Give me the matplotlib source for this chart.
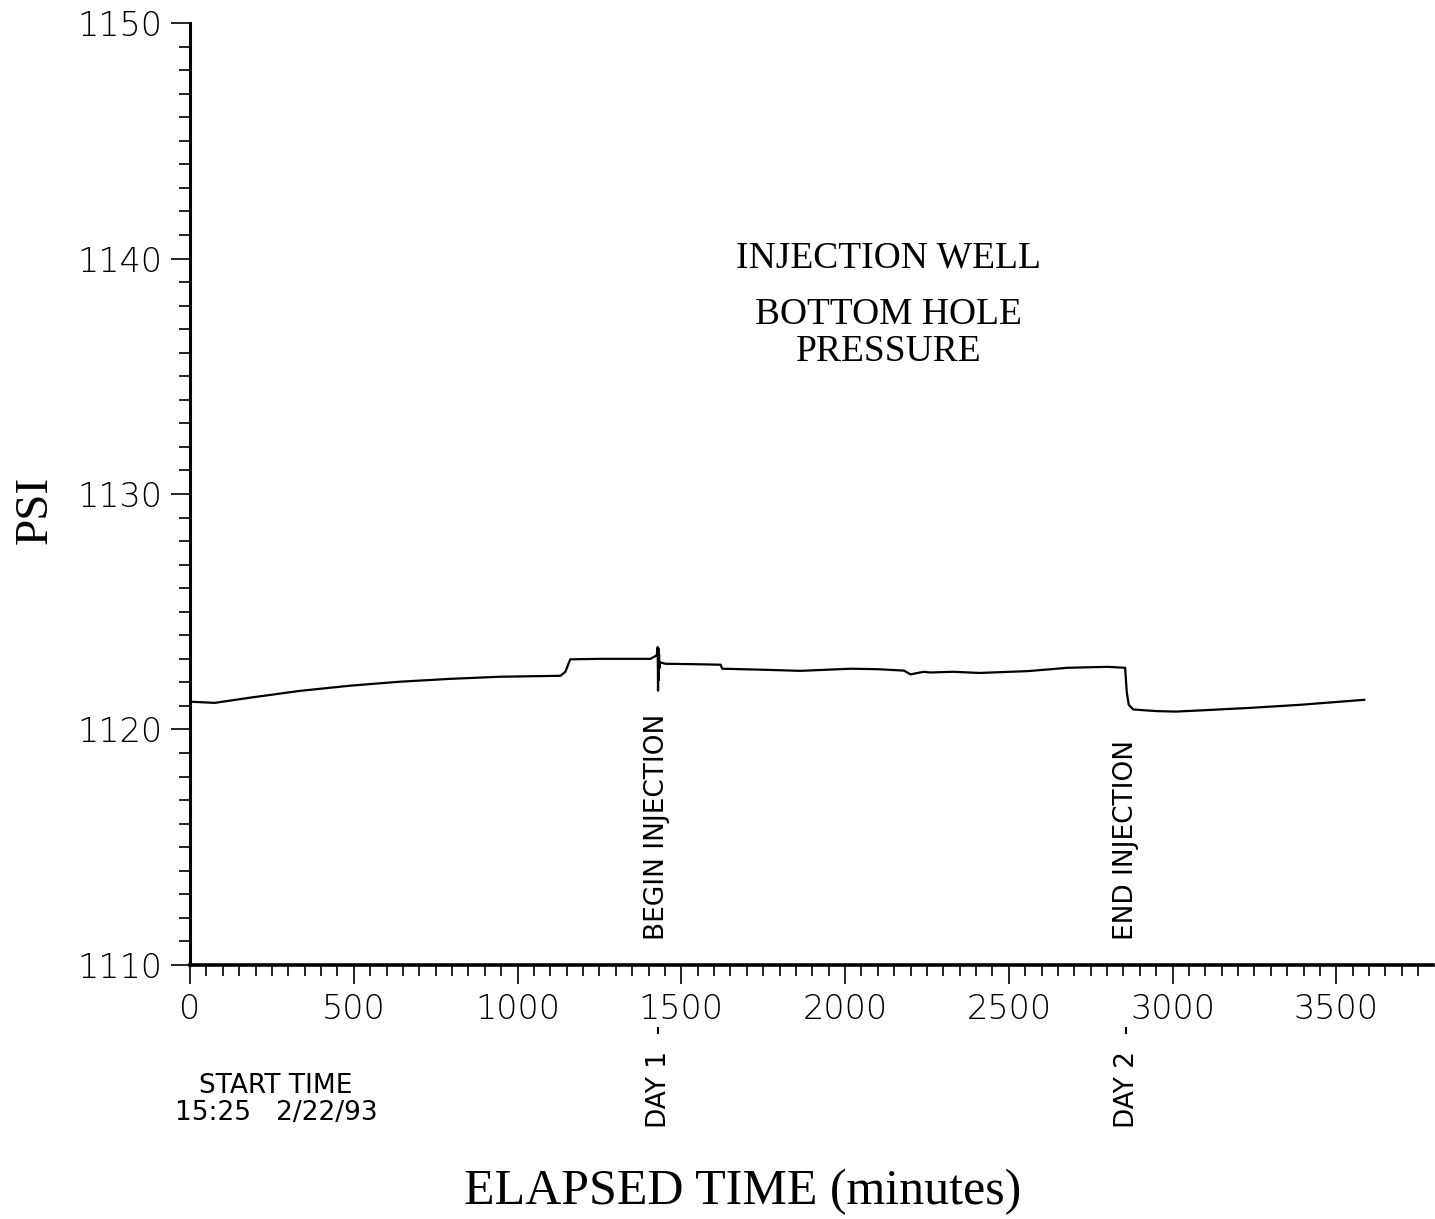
"""
Bottom hole pressure record for the injection well, plotted against
elapsed time from the start of logging.
"""

import matplotlib
matplotlib.use("Agg")
import matplotlib.pyplot as plt
from matplotlib.ticker import MultipleLocator

# Pressure trace (elapsed minutes, psi)
elapsed_min = [0, 76, 183, 336, 489, 642, 795, 947, 1131, 1146, 1161, 1253, 1406,
               1425, 1428, 1429, 1430, 1431, 1432, 1433, 1435, 1452, 1550, 1620, 1625,
               1742, 1864, 2017, 2100, 2180, 2200, 2240, 2260, 2330, 2410, 2560,
               2680, 2800, 2855, 2860, 2866, 2880, 2950, 3010, 3100, 3240, 3392, 3585]
pressure_psi = [1121.18, 1121.13, 1121.35, 1121.64, 1121.86, 1122.03, 1122.15, 1122.24,
                1122.28, 1122.45, 1122.98, 1123.00, 1123.00, 1123.15, 1123.50, 1121.65,
                1123.45, 1122.10, 1123.20, 1122.60, 1122.85, 1122.79, 1122.77, 1122.75,
                1122.58, 1122.54, 1122.49, 1122.58, 1122.56, 1122.50, 1122.34, 1122.45,
                1122.42, 1122.45, 1122.40, 1122.48, 1122.62, 1122.66, 1122.62, 1121.60,
                1121.05, 1120.85, 1120.78, 1120.76, 1120.82, 1120.92, 1121.05, 1121.26]

# Event annotations (elapsed minutes)
event_min = [1426, 2858]
event_labels = ["BEGIN INJECTION", "END INJECTION"]
day_min = [1432, 2860]
day_labels = ["DAY 1  -", "DAY 2  -"]

start_label = "START TIME\n15:25   2/22/93"
title_lines = ["INJECTION WELL", "BOTTOM HOLE\nPRESSURE"]

fig = plt.figure(figsize=(14.35, 12.19), dpi=100)
ax = fig.add_axes([0.1324, 0.2084, 0.8662, 0.7727])

ax.plot(elapsed_min, pressure_psi, color="black", linewidth=1.6)

ax.set_xlim(0, 3795)
ax.set_ylim(1110, 1150)

for side in ("top", "right"):
    ax.spines[side].set_visible(False)
ax.spines["left"].set_linewidth(2.2)
ax.spines["bottom"].set_linewidth(2.6)

ax.xaxis.set_major_locator(MultipleLocator(500))
ax.xaxis.set_minor_locator(MultipleLocator(50))
ax.yaxis.set_major_locator(MultipleLocator(10))
ax.yaxis.set_minor_locator(MultipleLocator(1))
ax.tick_params(which="major", direction="out", length=14, width=1.2,
               labelsize=24, pad=6)
ax.tick_params(which="minor", direction="out", length=8, width=1.2)
for lab in ax.get_xticklabels() + ax.get_yticklabels():
    lab.set_fontweight("light")

serif = "Liberation Serif"
fig.text(0.0244, 0.5816, "PSI", family=serif, fontsize=34, rotation=90,
         ha="center", va="center")
fig.text(0.5178, 0.0225, "ELAPSED TIME (minutes)", family=serif, fontsize=36,
         ha="center", va="center")

ax.text(2133, 1140, title_lines[0], family=serif, fontsize=27,
        ha="center", va="center")
ax.text(2133, 1136.84, title_lines[1], family=serif, fontsize=27,
        ha="center", va="center", linespacing=1.1)

for t, lab in zip(event_min, event_labels):
    ax.text(t, 1111.05, lab, rotation=90, fontsize=19, ha="center", va="bottom")
for t, lab in zip(day_min, day_labels):
    ax.text(t, 1107.45, lab, rotation=90, fontsize=19, ha="center", va="top",
            clip_on=False)

ax.text(263, 1104.3, start_label, fontsize=19, ha="center", va="center",
        linespacing=1.05, clip_on=False)

fig.savefig("out.png", dpi=100, facecolor="white")
